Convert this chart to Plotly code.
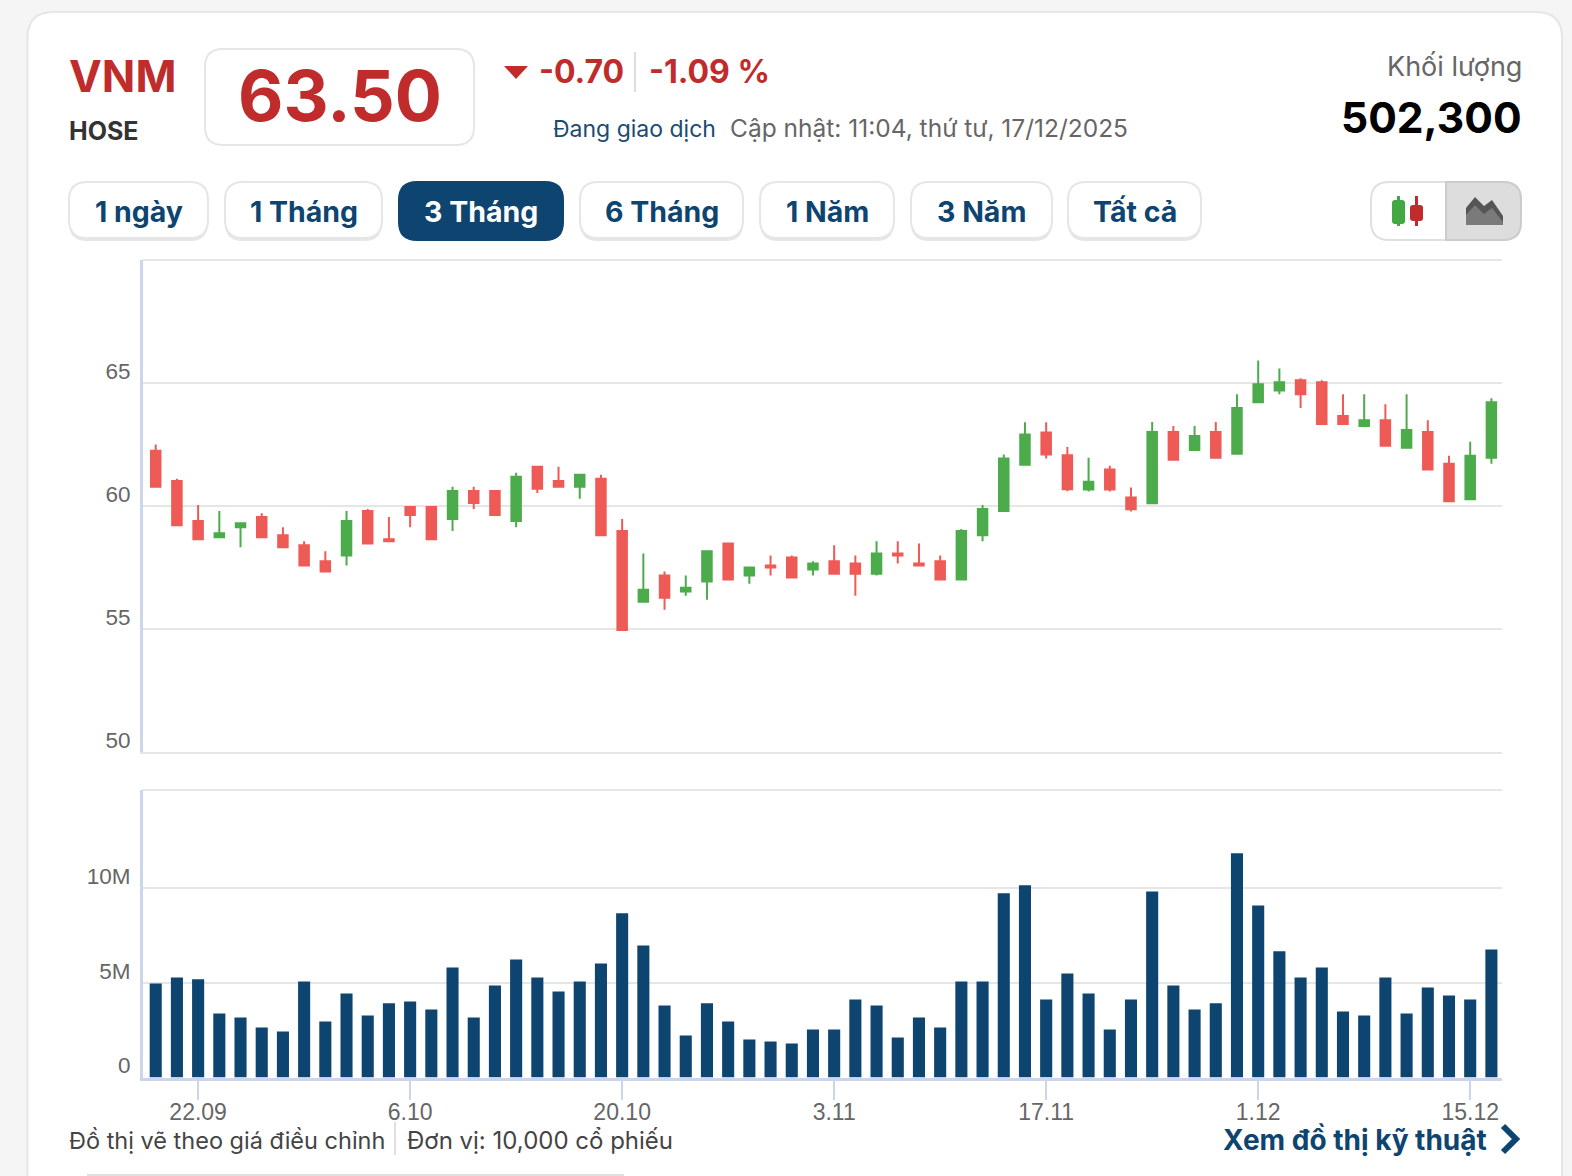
import plotly.graph_objects as go
from plotly.subplots import make_subplots

W, H = 1572, 1176

# trading days shown on the x axis
days = [
    "18.09", "19.09", "22.09", "23.09", "24.09", "25.09", "26.09", "29.09", "30.09",
    "1.10", "2.10", "3.10", "6.10", "7.10", "8.10", "9.10", "10.10", "13.10", "14.10", "15.10", "16.10", "17.10",
    "20.10", "21.10", "22.10", "23.10", "24.10", "27.10", "28.10", "29.10", "30.10", "31.10",
    "3.11", "4.11", "5.11", "6.11", "7.11", "10.11", "11.11", "12.11", "13.11", "14.11",
    "17.11", "18.11", "19.11", "20.11", "21.11", "24.11", "25.11", "26.11", "27.11", "28.11",
    "1.12", "2.12", "3.12", "4.12", "5.12", "8.12", "9.12", "10.12", "11.12", "12.12", "15.12", "16.12",
]
tick_days = ["22.09", "6.10", "20.10", "3.11", "17.11", "1.12", "15.12"]

open_price = [
    62.25, 61.02, 59.39, 58.73, 59.14, 59.55, 58.81, 58.40, 57.75, 57.99, 59.80, 58.65, 59.96, 59.96, 59.47, 60.61,
    60.61, 59.39, 61.60, 61.02, 60.78, 61.11, 58.98, 56.11, 57.17, 56.52, 56.93, 58.48, 57.17, 57.58, 57.91, 57.42,
    57.75, 57.66, 57.25, 58.07, 57.66, 57.75, 57.01, 58.81, 59.80, 61.68, 62.99, 62.06, 60.67, 61.48, 60.35, 60.11,
    63.01, 62.28, 63.01, 62.12, 64.22, 64.70, 65.11, 65.03, 63.66, 63.25, 63.49, 62.37, 63.01, 61.72, 60.27, 61.96,
]
close_price = [
    60.78, 59.22, 58.65, 58.89, 59.30, 58.73, 58.32, 57.58, 57.34, 59.39, 58.48, 58.57, 59.63, 58.65, 60.61, 60.12,
    59.63, 61.19, 60.70, 60.78, 61.27, 58.81, 54.96, 56.60, 56.27, 56.68, 58.16, 57.01, 57.50, 57.50, 57.09, 57.66,
    57.25, 57.25, 58.07, 57.99, 57.58, 57.01, 58.98, 59.88, 61.93, 62.91, 62.09, 60.68, 60.99, 60.67, 59.87, 63.01,
    61.88, 62.85, 61.96, 63.98, 64.95, 65.03, 64.54, 63.33, 63.33, 63.49, 62.45, 63.09, 61.48, 60.19, 62.04, 64.22,
]
high_price = [
    62.50, 61.11, 60.04, 59.80, 59.30, 59.71, 59.14, 58.57, 58.16, 59.80, 59.88, 59.55, 59.96, 59.96, 60.78, 60.78,
    60.61, 61.35, 61.60, 61.60, 61.27, 61.27, 59.47, 58.07, 57.34, 57.17, 58.16, 58.48, 57.50, 57.99, 57.99, 57.75,
    58.40, 57.99, 58.57, 58.57, 58.48, 57.99, 59.06, 60.04, 62.09, 63.40, 63.40, 62.40, 61.96, 61.64, 60.75, 63.41,
    63.25, 63.25, 63.41, 64.54, 65.91, 65.59, 65.19, 65.11, 64.54, 64.54, 64.14, 64.54, 63.49, 62.04, 62.61, 64.38,
]
low_price = [
    60.78, 59.22, 58.65, 58.73, 58.32, 58.73, 58.32, 57.58, 57.34, 57.58, 58.48, 58.57, 59.14, 58.65, 58.98, 59.88,
    59.63, 59.14, 60.53, 60.78, 60.29, 58.81, 54.96, 56.11, 55.78, 56.35, 56.19, 57.01, 56.84, 57.17, 57.09, 57.17,
    57.25, 56.35, 57.17, 57.66, 57.58, 57.01, 57.01, 58.57, 59.80, 61.68, 61.93, 60.60, 60.59, 60.59, 59.78, 60.11,
    61.88, 62.28, 61.96, 62.12, 64.22, 64.54, 63.98, 63.33, 63.33, 63.25, 62.45, 62.37, 61.48, 60.19, 60.27, 61.72,
]
# volume in millions of shares
volume_m = [
    4.97, 5.29, 5.19, 3.39, 3.17, 2.65, 2.43, 5.08, 2.96, 4.44, 3.28, 3.92, 4.02, 3.60, 5.82, 3.17,
    4.87, 6.24, 5.29, 4.55, 5.08, 6.03, 8.68, 6.98, 3.81, 2.22, 3.92, 2.96, 2.01, 1.90, 1.80, 2.54,
    2.54, 4.13, 3.81, 2.12, 3.17, 2.65, 5.08, 5.08, 9.74, 10.16, 4.13, 5.50, 4.44, 2.54, 4.13, 9.84,
    4.87, 3.60, 3.92, 11.85, 9.10, 6.67, 5.29, 5.82, 3.49, 3.28, 5.29, 3.39, 4.76, 4.34, 4.13, 6.77,
]
price_ticks = [50, 55, 60, 65]
price_labels = ["50", "55", "60", "65"]
volume_ticks = [0, 5, 10]
volume_labels = ["0", "5M", "10M"]
range_buttons = ["1 ngày", "1 Tháng", "3 Tháng", "6 Tháng", "1 Năm", "3 Năm", "Tất cả"]

FONT = "Inter, Roboto, sans-serif"
TICK_FONT = "Liberation Sans, Arial, sans-serif"
RED = "#c02b2b"
NAVY = "#0e4470"
GREY = "#666666"
AXIS = "#ccd6eb"
GRID = "#e6e6e6"


def px(x):
    return x / W


def py(y):
    return 1 - y / H


def rounded(x0, y0, x1, y1, r):
    # rounded rectangle in page pixels, as an svg path in paper coordinates
    pts = [
        f"M {px(x0 + r)} {py(y0)}", f"L {px(x1 - r)} {py(y0)}", f"Q {px(x1)} {py(y0)} {px(x1)} {py(y0 + r)}",
        f"L {px(x1)} {py(y1 - r)}", f"Q {px(x1)} {py(y1)} {px(x1 - r)} {py(y1)}",
        f"L {px(x0 + r)} {py(y1)}", f"Q {px(x0)} {py(y1)} {px(x0)} {py(y1 - r)}",
        f"L {px(x0)} {py(y0 + r)}", f"Q {px(x0)} {py(y0)} {px(x0 + r)} {py(y0)}", "Z",
    ]
    return " ".join(pts)


def poly(points, close=True):
    d = " ".join(("M" if i == 0 else "L") + f" {px(x)} {py(y)}" for i, (x, y) in enumerate(points))
    return d + (" Z" if close else "")


shapes = []


def add_path(path, fill=None, line=None, width=0):
    shapes.append(dict(type="path", path=path, xref="paper", yref="paper", layer="below",
                       fillcolor=fill or "rgba(0,0,0,0)",
                       line=dict(color=line or "rgba(0,0,0,0)", width=width)))


def add_line(x0, y0, x1, y1, color, width):
    shapes.append(dict(type="line", x0=px(x0), y0=py(y0), x1=px(x1), y1=py(y1), xref="paper", yref="paper",
                       layer="below", line=dict(color=color, width=width)))


annotations = []


def add_text(x, y, s, size, color, anchor="left", weight=400):
    annotations.append(dict(x=px(x), y=py(y), xref="paper", yref="paper", text=s, showarrow=False,
                            xanchor=anchor, yanchor="middle", borderpad=0,
                            font=dict(family=FONT, size=size, color=color, weight=weight)))


fig = make_subplots(rows=2, cols=1)

fig.add_trace(go.Candlestick(x=days, open=open_price, high=high_price, low=low_price, close=close_price,
                             whiskerwidth=0,
                             increasing=dict(line=dict(color="#4cab4a", width=2), fillcolor="#4cab4a"),
                             decreasing=dict(line=dict(color="#ee5a55", width=2), fillcolor="#ee5a55"),
                             showlegend=False), row=1, col=1)
fig.add_trace(go.Bar(x=days, y=volume_m, marker=dict(color=NAVY, line=dict(width=0)), showlegend=False), row=2, col=1)

# page furniture
add_path(rounded(27.5, 12, 1562, 1240, 26), fill="#ffffff", line="#e6e6e6", width=2)

add_text(68, 76, "VNM", 44, RED, weight=700)
add_text(68, 131, "HOSE", 25, "#333333", weight=700)
add_path(rounded(205, 49, 474, 145, 18), fill="#ffffff", line="#e6e6e6", width=2)
add_text(339.5, 95, "63.50", 70, RED, anchor="center", weight=700)
add_path(poly([(504, 66), (528, 66), (516, 79)]), fill=RED)
add_text(538, 72, "-0.70", 32, RED, weight=700)
add_line(635, 52, 635, 92, "#dddddd", 2)
add_text(648, 72, "-1.09 %", 32, RED, weight=700)
add_text(552, 129, "Đang giao dịch", 23, "#1c4a72")
add_text(729, 128, "Cập nhật: 11:04, thứ tư, 17/12/2025", 24.5, GREY)
add_text(1523, 66, "Khối lượng", 27, GREY, anchor="right")
add_text(1523, 117, "502,300", 42.5, "#000000", anchor="right", weight=700)

# range buttons
button_x = [(69, 208), (225, 382), (399, 563), (580, 743), (760, 894), (911, 1052), (1068, 1201)]
for (x0, x1), name in zip(button_x, range_buttons):
    active = name == "3 Tháng"
    if not active:
        add_path(rounded(x0, 184, x1, 241, 18), fill="#e6e6e6")
    add_path(rounded(x0, 182, x1, 240 if active else 238, 18), fill=NAVY if active else "#ffffff",
             line=NAVY if active else "#e6e6e6", width=2)
    add_text((x0 + x1) / 2, 211, name, 28.5, "#ffffff" if active else NAVY, anchor="center", weight=700)

# chart type toggle
add_path(rounded(1371, 182, 1521, 240, 18), fill="#ffffff", line="#e0e0e0", width=2)
add_path(f"M {px(1446)} {py(182)} L {px(1503)} {py(182)} Q {px(1521)} {py(182)} {px(1521)} {py(200)} "
         f"L {px(1521)} {py(222)} Q {px(1521)} {py(240)} {px(1503)} {py(240)} L {px(1446)} {py(240)} Z",
         fill="#dddddd", line="#cccccc", width=2)
add_line(1398.5, 196, 1398.5, 226, "#43a843", 3)
add_path(rounded(1392, 200, 1405, 224, 3), fill="#43a843")
add_line(1416.5, 196, 1416.5, 226, "#c02b2b", 3)
add_path(rounded(1410, 205, 1423, 221, 3), fill="#c02b2b")
add_path(poly([(1466, 225), (1466, 208), (1475, 197), (1484, 206), (1492, 200), (1503, 216), (1503, 225)]), fill="#555555")
add_path(poly([(1466, 225), (1466, 215), (1475, 205), (1484, 214), (1492, 208), (1503, 222), (1503, 225)]), fill="#7a7a7a")

# footer
add_text(68, 1140, "Đồ thị vẽ theo giá điều chỉnh", 23.5, "#444444")
add_line(395, 1122, 395, 1155, "#e0e0e0", 2)
add_text(406, 1140, "Đơn vị: 10,000 cổ phiếu", 24, "#444444")
add_text(1222, 1140, "Xem đồ thị kỹ thuật", 28, NAVY, weight=700)
add_path(poly([(1503, 1126), (1516, 1139), (1503, 1152)], close=False), line=NAVY, width=6)
add_line(87, 1175, 624, 1175, "#e0e0e0", 2)

# top borders of the two panels
add_line(143, 260, 1502, 260, GRID, 2)
add_line(143, 790, 1502, 790, GRID, 2)

fig.update_layout(
    width=W, height=H, autosize=False,
    margin=dict(l=0, r=0, t=0, b=0, pad=0),
    paper_bgcolor="#f5f5f5", plot_bgcolor="rgba(0,0,0,0)",
    font=dict(family=FONT, color=GREY),
    bargap=0.43, boxgap=0.36,
    showlegend=False,
    shapes=shapes, annotations=annotations,
)
x_common = dict(type="category", categoryorder="array", categoryarray=days, range=[-0.6, 63.5],
                showgrid=False, zeroline=False, fixedrange=True, automargin=False)
fig.update_xaxes(row=1, col=1, domain=[px(143), px(1502)], showticklabels=False, ticks="",
                 rangeslider=dict(visible=False), showline=True, linecolor=GRID, linewidth=2, **x_common)
fig.update_xaxes(row=2, col=1, domain=[px(143), px(1502)], tickmode="array", tickvals=tick_days, ticktext=tick_days,
                 ticks="outside", ticklen=19, tickwidth=2, tickcolor=AXIS, ticklabelstandoff=-7,
                 tickfont=dict(family=TICK_FONT, size=23, color=GREY),
                 showline=True, linecolor=AXIS, linewidth=3, **x_common)
y_common = dict(showgrid=True, gridcolor=GRID, gridwidth=2, zeroline=False, ticks="",
                showline=True, linecolor=AXIS, linewidth=3, automargin=False,
                ticklabelshift=-12, ticklabelstandoff=5,
                tickfont=dict(family=TICK_FONT, size=22.5, color=GREY), tickmode="array", fixedrange=True)
fig.update_yaxes(row=1, col=1, domain=[py(752), py(260)], range=[50, 70], tickvals=price_ticks, ticktext=price_labels, **y_common)
fig.update_yaxes(row=2, col=1, domain=[py(1077.5), py(790)], range=[0, 15.2], tickvals=volume_ticks, ticktext=volume_labels, **y_common)

fig.write_html("out.html", config={"displayModeBar": False},
               post_script="document.body.style.margin='0';document.body.style.overflow='hidden';")
